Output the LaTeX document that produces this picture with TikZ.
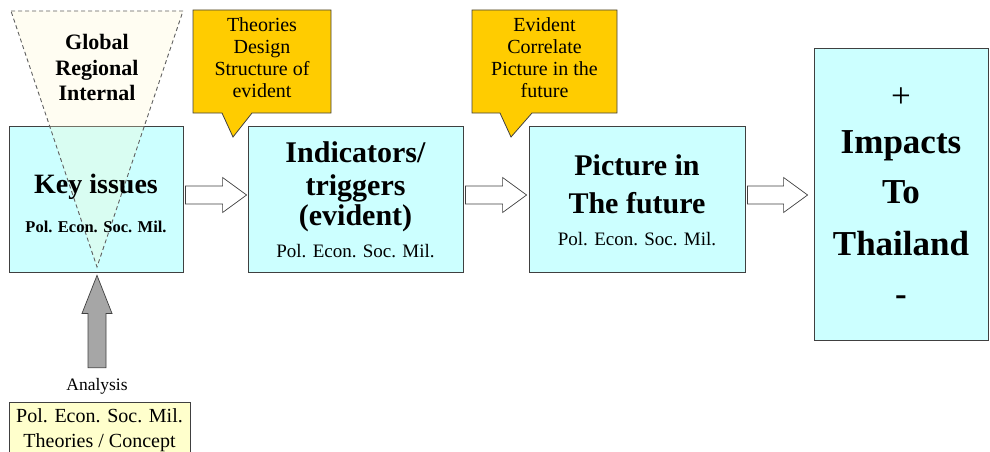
\documentclass[tikz,border=0pt]{standalone}
\usepackage{fontspec}
\setmainfont{Liberation Serif}
\usetikzlibrary{calc}
\definecolor{boxcyan}{HTML}{CCFFFF}
\definecolor{goldfill}{HTML}{FFCC00}
\definecolor{paleyellow}{HTML}{FFFFCC}
\definecolor{creamfill}{HTML}{FFF8CF}
\definecolor{edgecol}{HTML}{404040}
\definecolor{dashcol}{HTML}{606060}
\definecolor{arrowgray}{HTML}{A6A6A6}
\newcommand{\blockarrow}[3]{%
  \draw[barrow] let \p1=(#1.east), \p2=(#2.west) in
   (\x1+2pt,\y1+13pt) -- (\x2-#3-24pt,\y1+13pt) -- (\x2-#3-24pt,\y1+21.5pt)
   -- (\x2-#3,\y1+4pt) -- (\x2-#3-24pt,\y1-13.5pt) -- (\x2-#3-24pt,\y1-5pt)
   -- (\x1+2pt,\y1-5pt) -- cycle;}
\begin{document}
\begin{tikzpicture}[x=1pt,y=-1pt,
  cbox/.style={draw=edgecol, line width=0.8pt, fill=boxcyan, inner sep=0pt},
  ybox/.style={draw=edgecol, line width=0.8pt, fill=paleyellow, inner sep=0pt},
  callout/.style={draw=edgecol, line width=0.8pt, fill=goldfill},
  barrow/.style={draw=edgecol, line width=0.7pt, fill=white},
  garrow/.style={draw=edgecol, line width=0.7pt, fill=arrowgray},
  tri/.style={draw=dashcol, line width=0.9pt, dash pattern=on 4pt off 3pt, fill=creamfill, fill opacity=0.27},
  txt/.style={anchor=base, inner sep=0pt, text=black},
  bigb/.style={txt, font=\fontsize{30}{30}\selectfont\bfseries},
  hugeb/.style={txt, font=\fontsize{35}{35}\selectfont\bfseries},
  smallr/.style={txt, font=\fontsize{19}{19}\selectfont},
  callt/.style={txt, font=\fontsize{20}{20}\selectfont},
]
\useasboundingbox (0,0) rectangle (990,452);

% boxes
\node[cbox, minimum width=174, minimum height=146] (key) at (96,199) {};
\node[cbox, minimum width=215, minimum height=146] (ind) at (355.5,199) {};
\node[cbox, minimum width=216, minimum height=146] (pic) at (637,199) {};
\node[cbox, minimum width=174, minimum height=292] (imp) at (901,194) {};
\node[ybox, minimum width=181, minimum height=60] (yb) at (99.5,432) {};

% triangle funnel
\draw[tri] (11,11) -- (183,11) -- (97,267) -- cycle;
\node[txt, font=\fontsize{22}{22}\selectfont\bfseries] (glob) at (97,50) {Global};
\node[txt, font=\fontsize{22}{22}\selectfont\bfseries] (reg) at (97,75) {Regional};
\node[txt, font=\fontsize{22}{22}\selectfont\bfseries] (intl) at (97,100) {Internal};

% key issues text
\node[txt, font=\fontsize{28}{28}\selectfont\bfseries] (keyt) at (96,193) {Key issues};
\node[txt, font=\fontsize{16.5}{16.5}\selectfont\bfseries] (keyp) at (96,232) {Pol. Econ. Soc. Mil.};

% indicators text
\node[bigb] (ind1) at (355.5,162) {Indicators/};
\node[bigb] (ind2) at (355.5,195) {triggers};
\node[bigb] (ind3) at (355.5,225) {(evident)};
\node[smallr] (indp) at (355.5,257) {Pol. Econ. Soc. Mil.};

% picture text
\node[bigb] (pic1) at (637,175) {Picture in};
\node[bigb] (pic2) at (637,213) {The future};
\node[smallr] (picp) at (637,245) {Pol. Econ. Soc. Mil.};

% impacts text
\node[txt, font=\fontsize{35}{35}\selectfont] (plus) at (901,107) {+};
\node[hugeb] (imp1) at (901,153) {Impacts};
\node[hugeb] (imp2) at (901,203) {To};
\node[hugeb] (imp3) at (901,255) {Thailand};
\node[hugeb] (minus) at (901,305) {-};

% callouts
\draw[callout] (193,10) -- (331,10) -- (331,113) -- (252,113) -- (233,137) -- (222,113) -- (193,113) -- cycle;
\node[callt] (c1a) at (262,32) {Theories};
\node[callt] (c1b) at (262,53) {Design};
\node[callt] (c1c) at (262,75) {Structure of};
\node[callt] (c1d) at (262,97) {evident};

\draw[callout] (472,10) -- (617,10) -- (617,113) -- (532,113) -- (511,137) -- (500,113) -- (472,113) -- cycle;
\node[callt] (c2a) at (544.5,32) {Evident};
\node[callt] (c2b) at (544.5,53) {Correlate};
\node[callt] (c2c) at (544.5,75) {Picture in the};
\node[callt] (c2d) at (544.5,97) {future};

% block arrows
\blockarrow{key}{ind}{1pt}
\blockarrow{ind}{pic}{2pt}
\blockarrow{pic}{imp}{6pt}

% analysis
\node[txt, font=\fontsize{17.5}{17.5}\selectfont] (analysis) at (97,390) {Analysis};
\draw[garrow] let \p1=(key.south), \p2=(analysis.north) in
  (\x1-8pt,\y2+10pt) -- (\x1-8pt,\y1-41pt) -- (\x1-14pt,\y1-41pt) -- (\x1+1pt,\y1-3pt)
  -- (\x1+16pt,\y1-41pt) -- (\x1+10pt,\y1-41pt) -- (\x1+10pt,\y2+10pt) -- cycle;

\node[txt, font=\fontsize{20}{20}\selectfont] (yb1) at (99.5,422) {Pol. Econ. Soc. Mil.};
\node[txt, font=\fontsize{20}{20}\selectfont] (yb2) at (99.5,447) {Theories / Concept};
\end{tikzpicture}
\end{document}
